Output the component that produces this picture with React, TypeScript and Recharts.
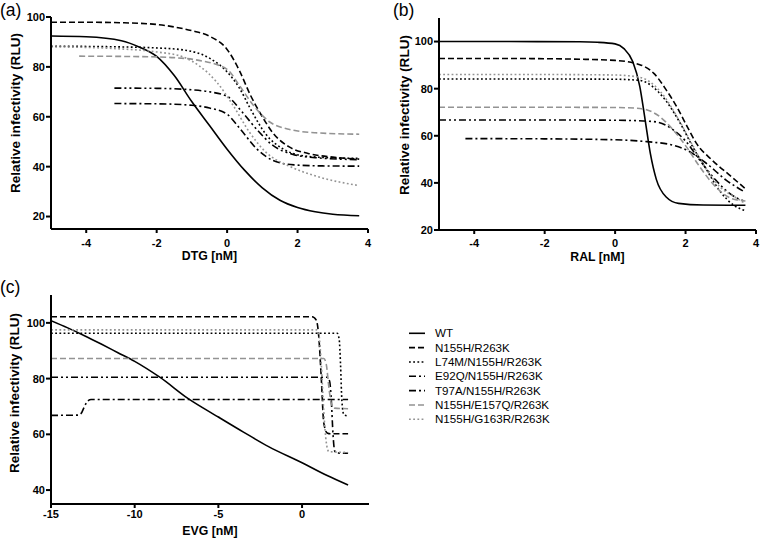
import { LineChart, Line, XAxis, YAxis } from 'recharts';

const FONT = '"Liberation Sans", Arial, Helvetica, sans-serif';

// series names (legend order)
const seriesNames = [
  'WT',
  'N155H/R263K',
  'L74M/N155H/R263K',
  'E92Q/N155H/R263K',
  'T97A/N155H/R263K',
  'N155H/E157Q/R263K',
  'N155H/G163R/R263K',
];

// ---- (a) DTG, points [log conc, RLU]
const dtgWT = [[-5, 92.4], [-4, 92.1], [-3, 90.5], [-2.5, 88], [-2, 84.2], [-1.5, 76.5], [-1, 66], [-0.5, 56.5], [0, 47], [0.5, 38.5], [1, 31.5], [1.5, 26.5], [2, 23.6], [2.5, 21.9], [3, 20.9], [3.75, 20.3]];
const dtgN155H = [[-5, 97.9], [-4, 97.9], [-3, 97.7], [-2, 97], [-1.5, 96], [-1, 94.5], [-0.5, 92.3], [0, 87], [0.35, 78.5], [0.65, 69], [1, 60], [1.3, 53.5], [1.75, 48], [2.3, 45.3], [3, 43.8], [3.75, 43]];
const dtgL74M = [[-5, 88.3], [-4, 88.2], [-3, 88], [-2, 87.6], [-1.25, 86.8], [-0.5, 83.5], [0, 78], [0.35, 71.5], [0.65, 63.5], [1.1, 53], [1.6, 47], [2.1, 44.5], [3, 43.5], [3.75, 43.3]];
const dtgE92Q = [[-3.2, 65.3], [-2, 65.2], [-1, 64.6], [-0.5, 63.5], [0, 61], [0.35, 55.5], [0.85, 47], [1.3, 42.5], [1.9, 40.7], [2.7, 40.3], [3.75, 40.2]];
const dtgT97A = [[-3.2, 71.5], [-2, 71.4], [-1, 70.8], [-0.5, 70], [0, 68.2], [0.45, 61.5], [0.85, 54.8], [1.3, 48.5], [1.85, 45], [2.5, 43.6], [3.75, 42.8]];
const dtgE157Q = [[-4.2, 84.3], [-3, 84.2], [-2, 84], [-1.5, 83.7], [-0.8, 82.6], [0, 79], [0.35, 72.5], [0.75, 64.5], [1.2, 58], [1.75, 55], [2.5, 53.6], [3.75, 53]];
const dtgG163R = [[-5, 88], [-4, 87.8], [-3, 87.2], [-2, 86], [-1.25, 84], [-0.8, 80.5], [-0.3, 74], [0.15, 65], [0.65, 53.5], [1.1, 45.8], [1.75, 40.3], [2.5, 36.3], [3.75, 32.4]];

// ---- (b) RAL
const ralWT = [[-5, 100], [-3, 100], [-1, 99.9], [-0.5, 99.7], [0, 99], [0.25, 97], [0.5, 91.5], [0.7, 81], [0.85, 67], [1, 52.5], [1.17, 41.5], [1.45, 34], [1.8, 31.3], [2.5, 30.6], [3.7, 30.5]];
const ralN155H = [[-5, 92.8], [-3, 92.8], [-1, 92.5], [0, 92], [0.7, 90.2], [1.1, 86.5], [1.45, 79.5], [1.75, 72.3], [2.05, 63.8], [2.3, 57], [2.75, 49.7], [3.25, 43.3], [3.7, 37.5]];
const ralL74M = [[-5, 84.1], [-2, 84.1], [0, 84], [0.7, 83.5], [1.35, 76.6], [1.85, 65.3], [2.2, 55.4], [2.6, 45.5], [2.95, 37], [3.4, 30.2], [3.7, 28.2]];
const ralE92Q = [[-4.25, 58.8], [-2, 58.7], [0, 58.3], [0.9, 57.5], [1.65, 56], [2.05, 53.8], [2.6, 48.2], [3.15, 41.2], [3.7, 36]];
const ralT97A = [[-5, 66.7], [-2, 66.7], [0, 66.6], [0.8, 66.3], [1.2, 65.8], [1.65, 62.5], [2, 57.8], [2.4, 49.7], [2.85, 41.3], [3.3, 35], [3.7, 32]];
const ralE157Q = [[-5, 72.1], [-2, 72.1], [0, 72], [0.7, 71.6], [1.27, 68.1], [1.65, 62.5], [2.02, 55.4], [2.4, 46.9], [2.85, 38.4], [3.3, 33.4], [3.7, 32.3]];
const ralG163R = [[-5, 86], [-2, 86], [0, 85.8], [0.7, 84.8], [1.3, 78.5], [1.8, 67], [2.2, 56], [2.6, 45.5], [3, 38], [3.4, 34], [3.7, 31.2]];

// ---- (c) EVG
const evgWT = [[-15, 100.8], [-14, 98.2], [-13, 95.4], [-12, 92.4], [-11, 89.3], [-10, 86.2], [-8.5, 80.5], [-6.8, 72.8], [-5, 66.2], [-3.5, 60.8], [-2, 55.6], [0, 49.8], [1.5, 45.2], [2.75, 41.8]];
const evgN155H = [[-15, 102.2], [0.6, 102.2], [0.85, 101], [1, 95], [1.15, 80], [1.3, 64], [1.5, 60.5], [1.7, 60.2], [2.75, 60.2]];
const evgL74M = [[-15, 96.3], [2.1, 96.3], [2.22, 94], [2.3, 85], [2.38, 72], [2.5, 67], [2.75, 66.6]];
const evgE92Q = [[-15, 66.8], [-13.4, 66.9], [-13.2, 67.5], [-13, 70], [-12.8, 72], [-12.6, 72.5], [2.75, 72.5]];
const evgT97A = [[-15, 80.5], [1.5, 80.5], [1.65, 79], [1.75, 72], [1.85, 60], [1.95, 54], [2.1, 53.3], [2.75, 53.2]];
const evgE157Q = [[-15, 87.2], [1.3, 87.2], [1.45, 85], [1.6, 77], [1.75, 71], [1.95, 69.4], [2.75, 69.2]];
const evgG163R = [[-15, 97.5], [0.85, 97.5], [1, 96], [1.15, 85], [1.3, 68], [1.45, 57], [1.6, 53.8], [2.75, 53.5]];

const dtgSeries = [dtgWT, dtgN155H, dtgL74M, dtgE92Q, dtgT97A, dtgE157Q, dtgG163R];
const ralSeries = [ralWT, ralN155H, ralL74M, ralE92Q, ralT97A, ralE157Q, ralG163R];
const evgSeries = [evgWT, evgN155H, evgL74M, evgE92Q, evgT97A, evgE157Q, evgG163R];

const GREY = '#939393';
const lineStyles = [
  { stroke: '#000', dash: undefined },
  { stroke: '#000', dash: '6 3' },
  { stroke: '#000', dash: '1.8 2.4' },
  { stroke: '#000', dash: '7 3 2 3' },
  { stroke: '#000', dash: '7 3 2 3 2 3' },
  { stroke: GREY, dash: '6 3' },
  { stroke: GREY, dash: '1.8 2.4' },
];

const toPts = (arr: number[][]) => arr.map(([x, y]) => ({ x, y }));

const tickStyle = { fill: '#000', fontSize: 11, fontWeight: 700, fontFamily: FONT };
const axisLine = { stroke: '#000', strokeWidth: 2 };

type PanelProps = {
  left: number;
  top: number;
  width: number;
  height: number;
  marginTop: number;
  marginRight: number;
  xTickGap: number;
  xDomain: number[];
  xTicks: number[];
  yDomain: number[];
  yTicks: number[];
  series: number[][][];
};

const Panel = (p: PanelProps) => (
  <div style={{ position: 'absolute', left: p.left, top: p.top }}>
    <LineChart
      width={p.width}
      height={p.height}
      margin={{ top: p.marginTop, right: p.marginRight, left: 0, bottom: 0 }}
    >
      <XAxis
        type="number"
        dataKey="x"
        domain={p.xDomain}
        ticks={p.xTicks}
        allowDataOverflow
        height={30}
        tick={tickStyle}
        tickSize={4}
        tickMargin={p.xTickGap}
        axisLine={axisLine}
        tickLine={axisLine}
      />
      <YAxis
        type="number"
        dataKey="y"
        domain={p.yDomain}
        ticks={p.yTicks}
        allowDataOverflow
        width={51}
        tick={tickStyle}
        tickSize={5}
        tickMargin={1}
        axisLine={axisLine}
        tickLine={axisLine}
      />
      {p.series.map((s, i) => (
        <Line
          key={seriesNames[i]}
          name={seriesNames[i]}
          data={toPts(s)}
          dataKey="y"
          type="monotone"
          stroke={lineStyles[i].stroke}
          strokeDasharray={lineStyles[i].dash}
          strokeWidth={1.6}
          dot={false}
          isAnimationActive={false}
        />
      ))}
    </LineChart>
  </div>
);

const Title = ({ x, y, text, rotate }: { x: number; y: number; text: string; rotate?: boolean }) => (
  <div
    style={{
      position: 'absolute',
      left: x,
      top: y,
      transform: rotate ? 'translate(-50%, -50%) rotate(-90deg)' : 'translate(-50%, -50%) scaleY(1.1)',
      whiteSpace: 'nowrap',
      fontSize: rotate ? 13.6 : 12.3,
      fontWeight: 700,
      lineHeight: 1,
      fontFamily: FONT,
    }}
  >
    {text}
  </div>
);

const PanelTag = ({ x, y, text }: { x: number; y: number; text: string }) => (
  <div style={{ position: 'absolute', left: x, top: y, fontSize: 17.5, lineHeight: 'normal', fontFamily: FONT }}>
    {text}
  </div>
);

const Legend = () => (
  <svg style={{ position: 'absolute', left: 400, top: 320 }} width={200} height={110}>
    {seriesNames.map((name, i) => {
      const y = 13.3 + i * 14.33;
      return (
        <g key={name}>
          <line
            x1={9}
            x2={25}
            y1={y}
            y2={y}
            stroke={lineStyles[i].stroke}
            strokeDasharray={lineStyles[i].dash}
            strokeWidth={1.6}
          />
          <text x={35} y={y} dy="0.36em" fontSize={11.6} fontFamily={FONT} fill="#000">
            {name}
          </text>
        </g>
      );
    })}
  </svg>
);

export default function App() {
  return (
    <div
      style={{
        position: 'absolute',
        left: 0,
        top: 0,
        width: 760,
        height: 541,
        background: '#fff',
        overflow: 'hidden',
        fontFamily: FONT,
      }}
    >
      <Panel
        left={0}
        top={0}
        width={380}
        height={259}
        marginTop={17}
        marginRight={12}
        xTickGap={6}
        xDomain={[-5, 4]}
        xTicks={[-4, -2, 0, 2, 4]}
        yDomain={[15, 100]}
        yTicks={[20, 40, 60, 80, 100]}
        series={dtgSeries}
      />
      <Panel
        left={388}
        top={0}
        width={372}
        height={260}
        marginTop={18}
        marginRight={4}
        xTickGap={5.5}
        xDomain={[-5, 4]}
        xTicks={[-4, -2, 0, 2, 4]}
        yDomain={[20, 110]}
        yTicks={[20, 40, 60, 80, 100]}
        series={ralSeries}
      />
      <Panel
        left={0}
        top={270}
        width={381}
        height={264}
        marginTop={25}
        marginRight={12}
        xTickGap={2}
        xDomain={[-15, 4]}
        xTicks={[-15, -10, -5, 0]}
        yDomain={[35, 110]}
        yTicks={[40, 60, 80, 100]}
        series={evgSeries}
      />

      <Title x={209.5} y={255.5} text="DTG [nM]" />
      <Title x={15.5} y={113} text="Relative infectivity (RLU)" rotate />
      <Title x={597.5} y={257} text="RAL [nM]" />
      <Title x={404.5} y={115} text="Relative infectivity (RLU)" rotate />
      <Title x={210} y={531} text="EVG [nM]" />
      <Title x={15} y={393} text="Relative infectivity (RLU)" rotate />

      <PanelTag x={0} y={0} text="(a)" />
      <PanelTag x={393} y={0} text="(b)" />
      <PanelTag x={0} y={277} text="(c)" />

      <Legend />
    </div>
  );
}
